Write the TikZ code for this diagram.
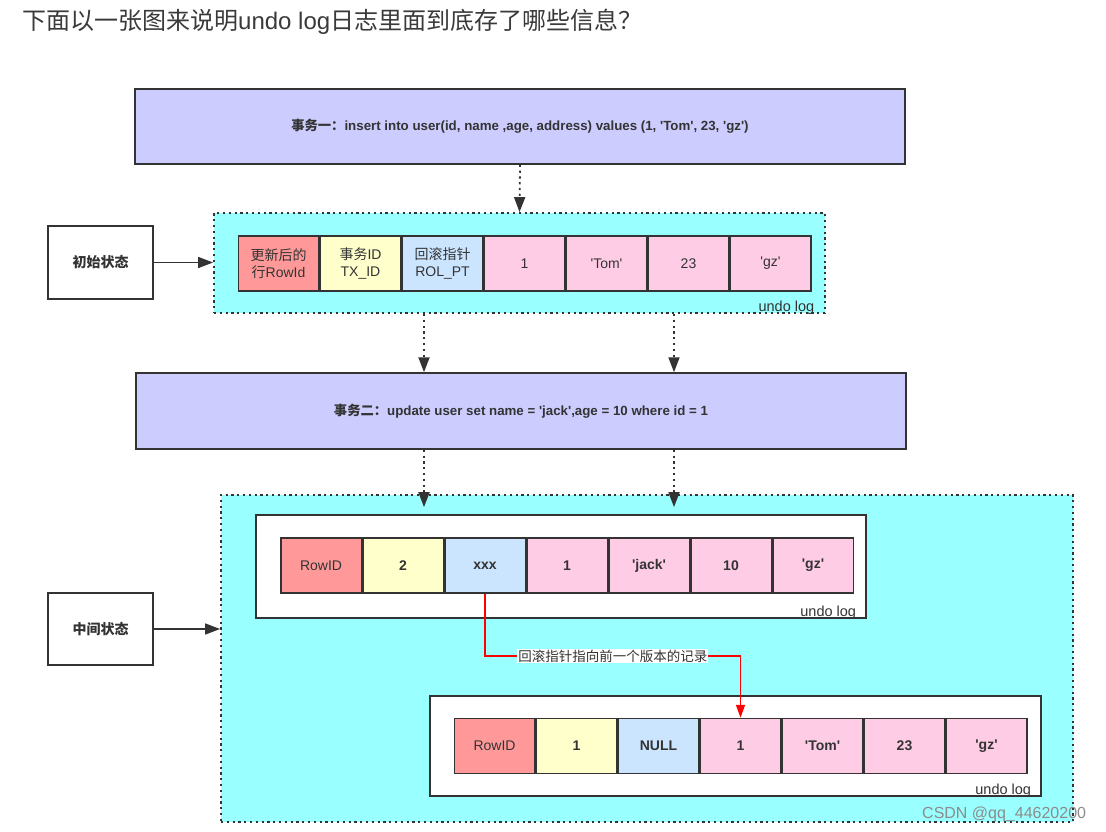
\documentclass[tikz,border=0pt]{standalone}
\usepackage{fontspec}
\setmainfont{Liberation Sans}
\newfontfamily\cjk{Noto Sans CJK SC}
\usetikzlibrary{arrows.meta}
\definecolor{ink}{HTML}{333333}
\definecolor{titleink}{HTML}{3A3A3A}
\definecolor{txfill}{HTML}{CCCCFF}
\definecolor{cyanfill}{HTML}{99FFFF}
\definecolor{cred}{HTML}{FF9999}
\definecolor{cyel}{HTML}{FFFFCC}
\definecolor{cblue}{HTML}{CCE5FF}
\definecolor{cpink}{HTML}{FFCCE6}
\definecolor{redline}{HTML}{FF0000}
\newcommand{\myq}{\textquotesingle}
\begin{document}
\begin{tikzpicture}[x=1pt,y=-1pt,
  txbox/.style={draw=ink, line width=1.5pt, fill=txfill, minimum width=770pt, minimum height=75pt, text=ink, inner sep=0pt},
  container/.style={draw=ink, line width=1.8pt, dash pattern=on 2.2pt off 3.6pt, fill=cyanfill, inner sep=0pt},
  innerbox/.style={draw=ink, line width=1.5pt, fill=white, inner sep=0pt},
  cell/.style={draw=ink, line width=1.5pt, minimum width=80.5pt, minimum height=55pt, inner sep=0pt, text=ink, align=center, font=\fontsize{14}{17}\selectfont},
  vcell/.style={cell, font=\fontsize{14}{17}\selectfont\bfseries},
  statebox/.style={draw=ink, line width=1.5pt, fill=white, minimum width=105pt, minimum height=73pt, text=ink, font=\fontsize{14}{16}\selectfont\cjk\bfseries},
  arr/.style={draw=ink, line width=1.5pt, -{Triangle[length=15pt,width=11pt]}},
  darr/.style={arr, line width=1.8pt, dash pattern=on 2.2pt off 3.6pt},
  ulog/.style={text=ink, inner sep=0.5pt, font=\fontsize{14.5}{15}\selectfont},
  redarr/.style={draw=redline, line width=1.5pt, -{Triangle[length=13pt,width=9pt]}},
  txfont/.style={font=\fontsize{13.3}{16}\selectfont\bfseries},
]
\useasboundingbox (0,0) rectangle (1106,832);
\fill[white] (0,0) rectangle (1106,832);

% title
\node[anchor=west, text=titleink, inner sep=0pt, font=\fontsize{24}{28}\selectfont] (title) at (22,22)
  {{\cjk 下面以一张图来说明}undo log{\cjk 日志里面到底存了哪些信息？}};

% transaction 1
\node[txbox, txfont] (b1) at (520,126.5) {{\cjk 事务一：}insert into user(id, name ,age, address) values (1, \myq Tom\myq, 23, \myq gz\myq)};

% initial state container
\node[container, minimum width=611pt, minimum height=100pt] (c1) at (519.5,263) {};
\node[cell, fill=cred] (r1) at (278.5,263.5) {{\cjk 更新后的}\\{\cjk 行}RowId};
\node[cell, fill=cyel, anchor=west] (r2) at (r1.east) {{\cjk 事务}ID\\TX\_ID};
\node[cell, fill=cblue, anchor=west] (r3) at (r2.east) {{\cjk 回滚指针}\\ROL\_PT};
\node[cell, fill=cpink, anchor=west] (r4) at (r3.east) {1};
\node[cell, fill=cpink, anchor=west] (r5) at (r4.east) {\myq Tom\myq};
\node[cell, fill=cpink, anchor=west] (r6) at (r5.east) {23};
\node[cell, fill=cpink, anchor=west] (r7) at (r6.east) {\myq gz\myq};
\node[ulog, anchor=south east] (u1) at ([xshift=-11pt,yshift=-1pt]c1.south east) {undo log};

\node[statebox] (s1) at (100.5,262.5) {初始状态};

% transaction 2
\node[txbox, txfont, minimum height=76pt] (b2) at (521,411) {{\cjk 事务二：}update user set name = \myq jack\myq,age = 10 where id = 1};

% middle state container
\node[container, minimum width=852pt, minimum height=327pt] (c2) at (647,658.5) {};
\node[innerbox, minimum width=610pt, minimum height=103pt] (iA) at (561,566.5) {};
\node[innerbox, minimum width=611pt, minimum height=100pt] (iB) at (735.5,746) {};

\node[cell, fill=cred] (a1) at (321,565.5) {RowID};
\node[vcell, fill=cyel, anchor=west] (a2) at (a1.east) {2};
\node[vcell, fill=cblue, anchor=west] (a3) at (a2.east) {xxx};
\node[vcell, fill=cpink, anchor=west] (a4) at (a3.east) {1};
\node[vcell, fill=cpink, anchor=west] (a5) at (a4.east) {\myq jack\myq};
\node[vcell, fill=cpink, anchor=west] (a6) at (a5.east) {10};
\node[vcell, fill=cpink, anchor=west] (a7) at (a6.east) {\myq gz\myq};
\node[ulog, anchor=south east] (uA) at ([xshift=-10pt,yshift=-1pt]iA.south east) {undo log};

\node[cell, fill=cred] (d1) at (494.5,746) {RowID};
\node[vcell, fill=cyel, anchor=west] (d2) at (d1.east) {1};
\node[vcell, fill=cblue, anchor=west] (d3) at (d2.east) {NULL};
\node[vcell, fill=cpink, anchor=west] (d4) at (d3.east) {1};
\node[vcell, fill=cpink, anchor=west] (d5) at (d4.east) {\myq Tom\myq};
\node[vcell, fill=cpink, anchor=west] (d6) at (d5.east) {23};
\node[vcell, fill=cpink, anchor=west] (d7) at (d6.east) {\myq gz\myq};
\node[ulog, anchor=south east] (uB) at ([xshift=-10pt,yshift=-1pt]iB.south east) {undo log};

\node[statebox, minimum height=72pt] (s2) at (100.5,629) {中间状态};

% connectors
\coordinate (xl) at (424,0);
\coordinate (xr) at (674,0);
\coordinate (redy) at (0,656);
\draw[darr] (b1.south) -- (c1.north);
\draw[darr] (c1.south -| xl) -- (b2.north -| xl);
\draw[darr] (c1.south -| xr) -- (b2.north -| xr);
\draw[darr] (b2.south -| xl) -- ([yshift=-13pt]c2.north -| xl);
\draw[darr] (b2.south -| xr) -- ([yshift=-13pt]c2.north -| xr);
\draw[arr] (s1.east) -- (c1.west |- s1.east);
\draw[arr] (s2.east) -- (c2.west |- s2.east);
\draw[redarr] (a3.south) -- (a3.south |- redy) -- node[fill=white, text=ink, inner sep=1pt, font=\fontsize{13.5}{15}\selectfont\cjk] (rl) {回滚指针指向前一个版本的记录} (d4.north |- redy) -- (d4.north);

% watermark
\node[anchor=west, text=black!45, inner sep=0pt, font=\fontsize{16}{18}\selectfont] (wm) at (922,814) {CSDN @qq\_44620200};
\end{tikzpicture}
\end{document}
